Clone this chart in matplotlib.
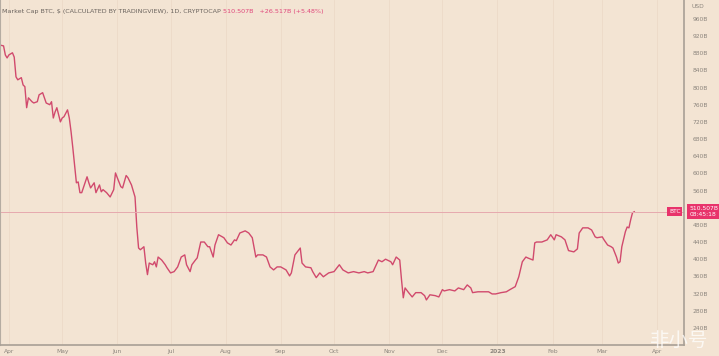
import matplotlib.pyplot as plt
import matplotlib.dates as mdates
import numpy as np
import pandas as pd

# BTC market cap, billions USD
dates = ["2022-03-27", "2022-03-29", "2022-03-30", "2022-03-31", "2022-04-01", "2022-04-03",
         "2022-04-04", "2022-04-05", "2022-04-06", "2022-04-08", "2022-04-09", "2022-04-10",
         "2022-04-11", "2022-04-12", "2022-04-14", "2022-04-15", "2022-04-17", "2022-04-18",
         "2022-04-20", "2022-04-21", "2022-04-22", "2022-04-24", "2022-04-25", "2022-04-26",
         "2022-04-27", "2022-04-28", "2022-04-30", "2022-05-01", "2022-05-02", "2022-05-04",
         "2022-05-05", "2022-05-06", "2022-05-07", "2022-05-09", "2022-05-10", "2022-05-11",
         "2022-05-12", "2022-05-15", "2022-05-16", "2022-05-17", "2022-05-19", "2022-05-20",
         "2022-05-22", "2022-05-23", "2022-05-24", "2022-05-26", "2022-05-28", "2022-05-30",
         "2022-05-31", "2022-06-01", "2022-06-03", "2022-06-04", "2022-06-06", "2022-06-07",
         "2022-06-09", "2022-06-11", "2022-06-12", "2022-06-13", "2022-06-14", "2022-06-16",
         "2022-06-17", "2022-06-18", "2022-06-19", "2022-06-21", "2022-06-22", "2022-06-23",
         "2022-06-24", "2022-06-26", "2022-06-28", "2022-06-29", "2022-07-01", "2022-07-03",
         "2022-07-05", "2022-07-07", "2022-07-09", "2022-07-10", "2022-07-12", "2022-07-13",
         "2022-07-15", "2022-07-16", "2022-07-18", "2022-07-20", "2022-07-22", "2022-07-23",
         "2022-07-25", "2022-07-26", "2022-07-28", "2022-07-31", "2022-08-02", "2022-08-04",
         "2022-08-06", "2022-08-07", "2022-08-09", "2022-08-12", "2022-08-14", "2022-08-16",
         "2022-08-18", "2022-08-19", "2022-08-22", "2022-08-24", "2022-08-26", "2022-08-28",
         "2022-08-30", "2022-09-01", "2022-09-04", "2022-09-06", "2022-09-07", "2022-09-09",
         "2022-09-12", "2022-09-13", "2022-09-15", "2022-09-18", "2022-09-19", "2022-09-21",
         "2022-09-23", "2022-09-25", "2022-09-28", "2022-10-01", "2022-10-04", "2022-10-06",
         "2022-10-09", "2022-10-12", "2022-10-15", "2022-10-18", "2022-10-20", "2022-10-23",
         "2022-10-26", "2022-10-28", "2022-10-30", "2022-11-02", "2022-11-03", "2022-11-05",
         "2022-11-07", "2022-11-08", "2022-11-09", "2022-11-10", "2022-11-12", "2022-11-14",
         "2022-11-16", "2022-11-19", "2022-11-21", "2022-11-22", "2022-11-24", "2022-11-27",
         "2022-11-29", "2022-12-01", "2022-12-02", "2022-12-05", "2022-12-08", "2022-12-10",
         "2022-12-13", "2022-12-15", "2022-12-17", "2022-12-18", "2022-12-21", "2022-12-24",
         "2022-12-27", "2022-12-29", "2022-12-31", "2023-01-03", "2023-01-06", "2023-01-08",
         "2023-01-11", "2023-01-13", "2023-01-15", "2023-01-17", "2023-01-18", "2023-01-21",
         "2023-01-22", "2023-01-23", "2023-01-26", "2023-01-29", "2023-01-31", "2023-02-02",
         "2023-02-03", "2023-02-06", "2023-02-08", "2023-02-10", "2023-02-11", "2023-02-13",
         "2023-02-15", "2023-02-16", "2023-02-18", "2023-02-21", "2023-02-23", "2023-02-25",
         "2023-02-26", "2023-03-01", "2023-03-02", "2023-03-04", "2023-03-06", "2023-03-07",
         "2023-03-09", "2023-03-10", "2023-03-11", "2023-03-12", "2023-03-14", "2023-03-15",
         "2023-03-16", "2023-03-17", "2023-03-18", "2023-03-19"]
mcap = [899, 897, 876, 869, 876, 881,
        871, 825, 818, 823, 806, 802,
        753, 776, 767, 764, 767, 783,
        788, 776, 764, 760, 767, 729,
        743, 753, 720, 729, 732, 748,
        729, 697, 659, 578, 580, 555,
        555, 592, 578, 566, 578, 555,
        573, 557, 562, 555, 545, 562,
        601, 590, 569, 566, 595, 590,
        573, 545, 475, 426, 422, 429,
        391, 364, 391, 387, 394, 382,
        405, 398, 387, 380, 368, 371,
        382, 405, 410, 387, 371, 387,
        398, 403, 440, 440, 429, 429,
        405, 433, 457, 450, 438, 433,
        445, 443, 461, 466, 461, 450,
        405, 410, 410, 405, 382, 375,
        382, 382, 375, 361, 368, 410,
        426, 391, 382, 380, 371, 357,
        368, 359, 368, 371, 387, 375,
        368, 371, 368, 371, 368, 371,
        398, 394, 400, 394, 387, 405,
        398, 352, 310, 333, 322, 312,
        322, 322, 315, 305, 317, 315,
        312, 329, 326, 329, 326, 333,
        329, 340, 333, 322, 324, 324,
        324, 319, 319, 322, 324, 329,
        336, 359, 394, 405, 403, 398,
        438, 440, 440, 445, 457, 445,
        457, 452, 445, 420, 419, 417,
        424, 461, 473, 473, 468, 452,
        450, 452, 445, 433, 429, 426,
        405, 391, 394, 429, 464, 475,
        473, 492, 508, 510.5]

last_price = 510.5
y_ticks = list(range(240, 961, 40))
month_ticks = ["2022-04-01", "2022-05-01", "2022-06-01", "2022-07-01", "2022-08-01",
               "2022-09-01", "2022-10-01", "2022-11-01", "2022-12-01", "2023-01-01",
               "2023-02-01", "2023-03-01", "2023-04-01"]
month_labels = ["Apr", "May", "Jun", "Jul", "Aug", "Sep", "Oct", "Nov", "Dec", "2023",
                "Feb", "Mar", "Apr"]

bg = "#f3e4d3"
pink = "#d14a6d"
grey = "#8c857d"

x = pd.to_datetime(dates)

fig = plt.figure(figsize=(7.19, 3.56), dpi=100, facecolor=bg)
ax = fig.add_axes([0.0, 1 - 345 / 356, 684 / 719, 345 / 356], facecolor=bg)

ax.plot(x, mcap, color=pink, lw=1.0, solid_joinstyle="round")
ax.axhline(last_price, color="#e6a9ae", lw=0.7)

ax.set_xlim(pd.Timestamp("2022-03-27"), pd.Timestamp("2023-04-16"))
ax.set_ylim(200, 1004)

xt = pd.to_datetime(month_ticks)
ax.set_xticks(xt)
ax.set_xticklabels(month_labels)
for lab in ax.get_xticklabels():
    if lab.get_text() == "2023":
        lab.set_fontweight("bold")
ax.set_yticks(y_ticks)
# the 520B label sits under the last-price box in the original
ax.set_yticklabels(["" if v == 520 else "%dB" % v for v in y_ticks])
ax.yaxis.tick_right()
ax.tick_params(axis="both", length=0, labelsize=4.3, colors=grey)
ax.tick_params(axis="x", pad=3)
ax.tick_params(axis="y", pad=6)
ax.grid(axis="x", color="#ecdac8", lw=0.6)

ax.spines["top"].set_visible(False)
ax.spines["bottom"].set_color("#a89f95")
ax.spines["bottom"].set_linewidth(1.2)
ax.spines["right"].set_color("#a89f95")
ax.spines["right"].set_linewidth(1.2)
ax.spines["left"].set_color("#b5aca2")
ax.spines["left"].set_linewidth(0.8)

# header
fig.text(0.003, 1 - 11 / 356, "Market Cap BTC, $ (CALCULATED BY TRADINGVIEW), 1D, CRYPTOCAP",
         fontsize=4.6, color="#6b645e", va="center")
fig.text(0.31, 1 - 11 / 356, "510.507B   +26.517B (+5.48%)",
         fontsize=4.6, color="#e0457a", va="center")
fig.text(0.962, 1 - 7 / 356, "USD", fontsize=4.3, color=grey, va="center")

# last price labels
ax.text(0.995, last_price, "BTC", transform=ax.get_yaxis_transform(), ha="right", va="center",
        fontsize=4.3, color="white",
        bbox=dict(boxstyle="square,pad=0.3", fc="#e8336b", ec="none"))
ax.text(1.008, last_price, "510.507B\n08:45:18", transform=ax.get_yaxis_transform(),
        ha="left", va="center", fontsize=4.3, color="white", linespacing=1.2,
        bbox=dict(boxstyle="square,pad=0.35", fc="#e8336b", ec="none"))

# watermark
fig.text(0.985, 1 - 340 / 356, "非小号", fontsize=14, color="white", alpha=0.75,
         ha="right", va="center", family=["Noto Sans CJK SC", "DejaVu Sans"])

fig.savefig("out.png", dpi=100, facecolor=bg)
